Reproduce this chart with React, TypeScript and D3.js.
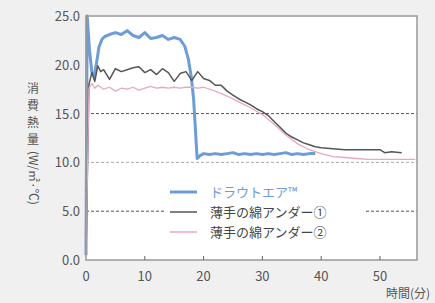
import React from 'react';
import * as d3 from 'd3';

// time (min), value (W/㎡·℃)
const dryTimes = [0, 0.2, 0.6, 1.0, 1.4, 1.8, 2.2, 2.7, 3.2, 4, 5, 6, 7, 8, 9, 10, 11, 12, 13, 14, 15, 16, 16.8, 17.4, 17.9, 18.3, 18.6, 18.9, 19.4, 20, 21, 22, 23, 24, 25, 26, 27, 28, 29, 30, 31, 32, 33, 34, 35, 36, 37, 38, 39];
const dryValues = [0.5, 25, 21.5, 19.2, 18.8, 20.2, 21.8, 22.6, 22.9, 23.1, 23.3, 23.1, 23.5, 23.0, 22.8, 23.3, 22.7, 22.8, 23.0, 22.6, 22.8, 22.6, 21.9, 20.6, 18.8, 16.5, 13.5, 10.4, 10.7, 10.9, 10.8, 10.9, 10.8, 10.9, 11.0, 10.8, 10.9, 10.8, 10.9, 10.8, 10.9, 10.8, 10.9, 11.0, 10.8, 10.9, 10.8, 10.9, 10.9];

const cotton1Times = [0, 0.5, 1, 1.5, 2, 2.5, 3, 4, 5, 6, 7, 8, 9, 10, 11, 12, 13, 14, 15, 16, 17, 18, 19, 20, 21, 22, 23, 24, 25, 26, 27, 28, 29, 30, 31, 32, 33, 34, 35, 36, 37, 38, 39, 40, 42, 44, 46, 48, 50, 50.8, 52, 53.7];
const cotton1Values = [0.5, 18.0, 19.2, 18.3, 19.9, 19.3, 19.5, 18.5, 19.6, 19.3, 19.5, 19.7, 19.8, 19.2, 19.5, 19.0, 19.6, 19.2, 18.3, 19.1, 19.3, 18.4, 19.3, 18.6, 18.4, 17.9, 17.9, 17.3, 16.9, 16.5, 16.2, 15.9, 15.5, 15.2, 14.8, 14.2, 13.6, 13.0, 12.6, 12.3, 12.0, 11.8, 11.6, 11.5, 11.4, 11.3, 11.3, 11.3, 11.3, 11.0, 11.1, 11.0];

const cotton2Times = [0, 0.5, 1, 1.5, 2, 3, 4, 5, 6, 7, 8, 9, 10, 11, 12, 13, 14, 15, 16, 17, 18, 19, 20, 21, 22, 24, 26, 28, 30, 32, 34, 36, 38, 40, 42, 44, 46, 48, 50, 52, 54, 56];
const cotton2Values = [0.5, 17.6, 18.1, 17.6, 17.9, 17.5, 17.7, 17.3, 17.6, 17.5, 17.7, 17.4, 17.6, 17.8, 17.6, 17.7, 17.6, 17.7, 17.6, 17.7, 17.7, 17.6, 17.7, 17.5, 17.3, 16.8, 16.2, 15.6, 14.9, 13.9, 12.8, 11.9, 11.3, 10.9, 10.6, 10.5, 10.4, 10.3, 10.3, 10.3, 10.3, 10.3];

const yTicks = [0, 5, 10, 15, 20, 25];
const xTicks = [0, 10, 20, 30, 40, 50];
const dashedLevels = [5, 10, 15];
const legendLabels = ['ドラウトエア™', '薄手の綿アンダー①', '薄手の綿アンダー②'];
const yTitleUpright = ['消', '費', '熱', '量'];
const yTitleUnit = '(W/㎡·℃)';
const xTitle = '時間(分)';

const W = 435, H = 303;
const left = 86, right = 417, top = 16, bottom = 260;
const font = '"Noto Sans CJK JP", "Noto Sans", sans-serif';

const series = [
  { times: dryTimes, values: dryValues, color: '#6d9dd6', width: 3 },
  { times: cotton1Times, values: cotton1Values, color: '#555555', width: 1.5 },
  { times: cotton2Times, values: cotton2Values, color: '#e8a9b8', width: 1.3 },
];

export default function App() {
  const x = d3.scaleLinear().domain([0, 56.3]).range([left, right]);
  const y = d3.scaleLinear().domain([0, 25]).range([bottom, top]);

  const line = d3.line<number>()
    .x((d) => d[0])
    .y((d) => d[1]);

  return (
    <div style={{ position: 'absolute', left: 0, top: 0 }}>
      <svg width={W} height={H} style={{ display: 'block', fontFamily: font }}>
        <rect width={W} height={H} fill="#f0f0f0" />
        <rect x={left} y={top} width={right - left} height={bottom - top} fill="#ffffff" />

        {dashedLevels.map((v) => (
          <line key={v} x1={left} x2={right} y1={y(v)} y2={y(v)}
            stroke={v === 10 ? '#aaaaaa' : '#555555'} strokeWidth={1} strokeDasharray="3,2" />
        ))}

        {series.map((s, i) => {
          const pts = s.times.map((t, j) => [x(t), y(s.values[j])] as any);
          return (
            <path key={i} d={line(pts) || ''} fill="none" stroke={s.color}
              strokeWidth={s.width} strokeLinejoin="round" />
          );
        })}

        {/* legend */}
        <rect x={165} y={181} width={200} height={60} fill="#ffffff" />
        {legendLabels.map((lab, i) => (
          <g key={lab} transform={`translate(170,${192 + i * 20})`}>
            <line x1={0} x2={27} y1={0} y2={0} stroke={series[i].color}
              strokeWidth={i === 0 ? 3 : 1.5} />
            <text x={40} y={4.5} fontSize={13}
              fill={i === 0 ? '#6d9dd6' : '#444444'}>{lab}</text>
          </g>
        ))}

        {/* frame */}
        <rect x={left} y={top} width={right - left} height={bottom - top} fill="none"
          stroke="#999999" strokeWidth={1.5} />

        {xTicks.slice(1).map((t) => (
          <line key={t} x1={x(t)} x2={x(t)} y1={bottom} y2={bottom - 4}
            stroke="#666666" strokeWidth={1} />
        ))}
        {xTicks.map((t) => (
          <text key={t} x={x(t)} y={281} fontSize={13} fill="#555555" textAnchor="middle">{t}</text>
        ))}
        {yTicks.map((v) => (
          <text key={v} x={80} y={y(v) + 5} fontSize={13} fill="#555555" textAnchor="end">{v.toFixed(1)}</text>
        ))}

        <text x={430} y={298} fontSize={12} fill="#555555" textAnchor="end">{xTitle}</text>
        {yTitleUpright.map((c, i) => (
          <text key={c} x={33} y={93 + i * 17} fontSize={12} fill="#555555" textAnchor="middle">{c}</text>
        ))}
        <text transform="translate(29,151) rotate(90)" fontSize={12} fill="#555555">{yTitleUnit}</text>
      </svg>
    </div>
  );
}
